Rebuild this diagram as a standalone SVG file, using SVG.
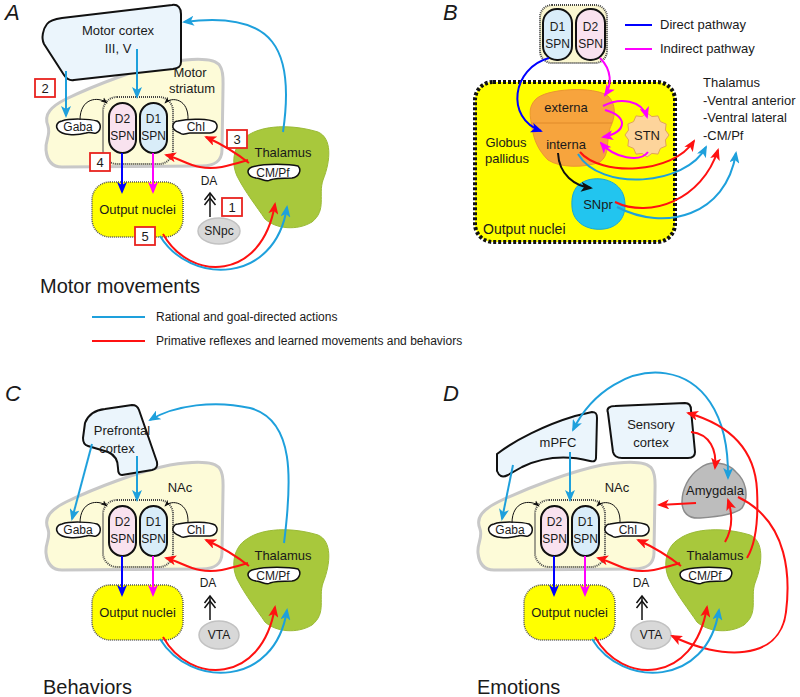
<svg xmlns="http://www.w3.org/2000/svg" width="800" height="697" viewBox="0 0 800 697">
<defs>
<style>
text{font-family:"Liberation Sans",Arial,sans-serif;fill:#1a1a1a;font-size:13px}
.m{text-anchor:middle}
.s12{font-size:12px}
.lab{font-size:22px;font-style:italic}
.title{font-size:20px}
.leg{font-size:12px}
.cortex{fill:#ebf5fc;stroke:#111;stroke-width:2;stroke-linejoin:round}
.str{fill:#fdfbd8;stroke:#c8c8c8;stroke-width:3}
.cont{fill:none;stroke:#444;stroke-width:2;stroke-dasharray:1 1}
.contf{fill:#fbf7d0;stroke:#444;stroke-width:2;stroke-dasharray:1 1}
.d2{fill:#f9e2ef;stroke:#111;stroke-width:2}
.d1{fill:#d9edf9;stroke:#111;stroke-width:2}
.blob{fill:#fff;stroke:#111;stroke-width:1.5}
.out{fill:#ffff00;stroke:#555;stroke-width:1.5;stroke-dasharray:1 1}
.thal{fill:#a8c83c;stroke:#9aba36;stroke-width:1}
.gray{fill:#d8d8d8;stroke:#c2c2c2;stroke-width:1.5}
.box{fill:#fff;stroke:#e8231f;stroke-width:1.8}
.cb{fill:none;stroke:#1ea0dc;stroke-width:2;marker-end:url(#ab)}
.cr{fill:none;stroke:#ff1111;stroke-width:2;marker-end:url(#ar)}
.cd{fill:none;stroke:#0000ff;stroke-width:2;marker-end:url(#ad)}
.cm{fill:none;stroke:#ff00ff;stroke-width:2;marker-end:url(#am)}
.ck{fill:none;stroke:#111;stroke-width:1;marker-end:url(#ak)}
.ckb{fill:none;stroke:#111;stroke-width:2;marker-end:url(#akb)}
</style>
<marker id="ab" viewBox="0 0 12 10" refX="10" refY="5" markerWidth="12" markerHeight="10" markerUnits="userSpaceOnUse" orient="auto-start-reverse"><path d="M0,0 L12,5 L0,10 L3,5 Z" fill="#1ea0dc"/></marker>
<marker id="ar" viewBox="0 0 12 10" refX="10" refY="5" markerWidth="12" markerHeight="10" markerUnits="userSpaceOnUse" orient="auto"><path d="M0,0 L12,5 L0,10 L3,5 Z" fill="#ff1111"/></marker>
<marker id="ad" viewBox="0 0 12 10" refX="10" refY="5" markerWidth="12" markerHeight="10" markerUnits="userSpaceOnUse" orient="auto"><path d="M0,0 L12,5 L0,10 L3,5 Z" fill="#0000ff"/></marker>
<marker id="am" viewBox="0 0 12 10" refX="10" refY="5" markerWidth="12" markerHeight="10" markerUnits="userSpaceOnUse" orient="auto"><path d="M0,0 L12,5 L0,10 L3,5 Z" fill="#ff00ff"/></marker>
<marker id="ak" viewBox="0 0 8 6" refX="7" refY="3" markerWidth="7" markerHeight="6" markerUnits="userSpaceOnUse" orient="auto"><path d="M0,0 L8,3 L0,6 L2,3 Z" fill="#111"/></marker>
<marker id="akb" viewBox="0 0 12 10" refX="10" refY="5" markerWidth="12" markerHeight="10" markerUnits="userSpaceOnUse" orient="auto"><path d="M0,0 L12,5 L0,10 L3,5 Z" fill="#111"/></marker>
</defs>
<rect width="800" height="697" fill="#fff"/>

<!-- ===== Panel A ===== -->
<g id="A-label"><text x="5" y="20" class="lab">A</text></g>
<g id="A-striatum">
<path class="str" d="M48,126 C43,114 52,106 66,99 C95,85 140,68 170,62 C195,58 215,58 220,66 C224,72 223,80 223,88 L222,150 C222,161 214,166 202,166 L62,167 C52,167 47,160 46,150 C45,140 51,135 48,126 Z"/>
<text x="190" y="77" class="m">Motor</text><text x="192" y="93" class="m">striatum</text>
</g>
<g id="A-cortex">
<path class="cortex" d="M47,24 C50,20 55,19 62,18 L172,5 C178,4 181,8 181,14 L181,62 C181,67 178,68 173,69 L74,80 C69,81 66,78 64,75 L44,44 C41,38 43,29 47,24 Z"/>
<text x="118" y="35" class="m">Motor cortex</text><text x="118" y="53" class="m">III, V</text>
</g>
<g id="A-spn-group"><rect class="cont" x="103" y="97" width="70" height="67" rx="14"/></g>
<g id="A-D2"><rect class="d2" x="109" y="103" width="27" height="50" rx="13.5"/><text x="122.5" y="123" class="m s12">D2</text><text x="122.5" y="140" class="m s12">SPN</text></g>
<g id="A-D1"><rect class="d1" x="140" y="103" width="27" height="50" rx="13.5"/><text x="153.5" y="123" class="m s12">D1</text><text x="153.5" y="140" class="m s12">SPN</text></g>
<g id="A-gaba"><path class="blob" d="M62,121 C70,118 90,119 97,121 C102,124 101,131 96,133 C92,134 90,131 86,133 C75,136 62,135 58,130 C55,126 57,122 62,121 Z"/><text x="78" y="131" class="m s12">Gaba</text></g>
<g id="A-chi"><path class="blob" d="M178,121 C190,118 210,119 215,122 C219,126 217,132 210,133 L190,133 C186,133 183,136 180,133 C175,131 172,128 173,125 C174,122 176,121 178,121 Z"/><text x="196" y="131" class="m s12">ChI</text></g>
<g id="A-output"><rect class="out" x="92" y="182" width="91" height="55" rx="18"/><text x="137.5" y="214" class="m">Output nuclei</text></g>
<g id="A-thalamus">
<path class="thal" d="M247,136 C262,125 292,124 318,132 C332,138 331,160 323,180 C318,195 327,210 312,222 C297,231 276,229 265,219 C257,207 245,192 237,176 C230,160 235,143 247,136 Z"/>
<text x="283" y="157" class="m">Thalamus</text>
<path class="blob" d="M252,167 C265,163 290,164 298,166 C302,170 299,177 292,178 C285,178 275,178 270,180 C266,183 262,178 256,178 C248,177 245,170 252,167 Z"/>
<text x="273" y="177" class="m s12">CM/Pf</text>
</g>
<g id="A-snpc"><ellipse class="gray" cx="219" cy="231" rx="21" ry="13"/><text x="219" y="235" class="m s12">SNpc</text></g>
<g id="A-da"><text x="209" y="185" class="m s12">DA</text></g>
<g id="A-box1"><rect class="box" x="222" y="198" width="20" height="18"/><text x="232" y="212" class="m">1</text></g>
<g id="A-box2"><rect class="box" x="35" y="79" width="20" height="18"/><text x="45" y="93" class="m">2</text></g>
<g id="A-box3"><rect class="box" x="227" y="130" width="20" height="18"/><text x="237" y="144" class="m">3</text></g>
<g id="A-box4"><rect class="box" x="90" y="153" width="20" height="18"/><text x="100" y="167" class="m">4</text></g>
<g id="A-box5"><rect class="box" x="135" y="227" width="20" height="18"/><text x="145" y="241" class="m">5</text></g>
<g id="A-title"><text x="40" y="293" class="title">Motor movements</text></g>

<!-- legend -->
<g id="legend">
<line x1="92" y1="317" x2="145" y2="317" stroke="#1ea0dc" stroke-width="2"/>
<text x="156" y="321" class="leg">Rational and goal-directed actions</text>
<line x1="92" y1="341" x2="145" y2="341" stroke="#ff1111" stroke-width="2"/>
<text x="156" y="345" class="leg">Primative reflexes and learned movements and behaviors</text>
</g>

<!-- ===== Panel B ===== -->
<g id="B-label"><text x="443" y="20" class="lab">B</text></g>
<g id="B-output"><rect x="475" y="82" width="200" height="160" rx="18" fill="#ffff00" stroke="#111" stroke-width="4" stroke-dasharray="3 2"/><text x="483" y="234" style="font-size:14px">Output nuclei</text></g>
<g id="B-spn"><rect class="contf" x="540" y="5" width="67" height="58" rx="12"/>
<rect class="d1" x="543" y="9" width="29" height="51" rx="14"/><text x="557.5" y="31" class="m s12">D1</text><text x="557.5" y="48" class="m s12">SPN</text>
<rect class="d2" x="576" y="9" width="29" height="51" rx="14"/><text x="590.5" y="31" class="m s12">D2</text><text x="590.5" y="48" class="m s12">SPN</text></g>
<g id="B-legend">
<line x1="625" y1="25" x2="652" y2="25" stroke="#0000ff" stroke-width="2"/><text x="660" y="29">Direct pathway</text>
<line x1="625" y1="49" x2="652" y2="49" stroke="#ff00ff" stroke-width="2"/><text x="660" y="53">Indirect pathway</text>
</g>
<g id="B-gp">
<path d="M535,100 C545,88 595,86 608,96 C618,106 614,120 610,128 C606,142 610,155 600,162 C585,168 560,168 548,160 C538,150 534,140 532,128 C530,115 528,108 535,100 Z" fill="#f7a43d" stroke="#ec9631" stroke-width="1"/>
<line x1="531" y1="123" x2="612" y2="123" stroke="#e08a2a" stroke-width="1"/>
<text x="566" y="112" class="m">externa</text><text x="566" y="149" class="m">interna</text>
</g>
<g id="B-gp-label"><text x="506" y="147" class="m">Globus</text><text x="507" y="163" class="m">pallidus</text></g>
<g id="B-stn"><polygon points="669,135 665.4,139.9 666.1,146 660.4,148.4 658,154.1 651.9,153.4 647,157 642.1,153.4 636,154.1 633.6,148.4 627.9,146 628.6,139.9 625,135 628.6,130.1 627.9,124 633.6,121.6 636,115.9 642.1,116.6 647,113 651.9,116.6 658,115.9 660.4,121.6 666.1,124 665.4,130.1" fill="#fdd49b" stroke="#e2a35a" stroke-width="1"/><text x="647" y="140" class="m">STN</text></g>
<g id="B-snpr"><path d="M585,181 C600,175 620,181 624,197 C628,214 620,227 604,229 C588,231 573,223 572,207 C571,194 575,185 585,181 Z" fill="#22c5ef" stroke="#17a8d6" stroke-width="1"/><text x="598" y="209" class="m">SNpr</text></g>
<g id="B-thalamus"><text x="703" y="87">Thalamus</text><text x="703" y="105">-Ventral anterior</text><text x="703" y="122">-Ventral lateral</text><text x="703" y="140">-CM/Pf</text></g>

<!-- ===== Panel C ===== -->
<g id="C-label"><text x="5" y="401" class="lab">C</text></g>
<g id="C-nac" transform="translate(0,403)">
<path class="str" d="M48,126 C43,114 52,106 66,99 C95,85 140,68 170,62 C195,58 215,58 220,66 C224,72 223,80 223,88 L222,150 C222,161 214,166 202,166 L62,167 C52,167 47,160 46,150 C45,140 51,135 48,126 Z"/>
<text x="180" y="89" class="m">NAc</text>
</g>
<g id="C-pfc">
<path class="cortex" d="M85,423 C88,415 95,410 105,409 L132,405 C136,405 138,407 139,410 L157,462 C158,467 156,469 152,470 L122,475 C119,475 118,472 118,468 C118,460 115,455 108,452 L88,446 C84,445 83,442 83,438 Z"/>
<text x="122" y="435" class="m">Prefrontal</text><text x="117" y="453" class="m">cortex</text>
</g>
<g id="C-spn-group" transform="translate(0,403)"><rect class="cont" x="103" y="97" width="70" height="67" rx="14"/></g>
<g id="C-D2" transform="translate(0,403)"><rect class="d2" x="109" y="103" width="27" height="50" rx="13.5"/><text x="122.5" y="123" class="m s12">D2</text><text x="122.5" y="140" class="m s12">SPN</text></g>
<g id="C-D1" transform="translate(0,403)"><rect class="d1" x="140" y="103" width="27" height="50" rx="13.5"/><text x="153.5" y="123" class="m s12">D1</text><text x="153.5" y="140" class="m s12">SPN</text></g>
<g id="C-gaba" transform="translate(0,403)"><path class="blob" d="M62,121 C70,118 90,119 97,121 C102,124 101,131 96,133 C92,134 90,131 86,133 C75,136 62,135 58,130 C55,126 57,122 62,121 Z"/><text x="78" y="131" class="m s12">Gaba</text></g>
<g id="C-chi" transform="translate(0,403)"><path class="blob" d="M178,121 C190,118 210,119 215,122 C219,126 217,132 210,133 L190,133 C186,133 183,136 180,133 C175,131 172,128 173,125 C174,122 176,121 178,121 Z"/><text x="196" y="131" class="m s12">ChI</text></g>
<g id="C-output" transform="translate(0,403)"><rect class="out" x="92" y="182" width="91" height="55" rx="18"/><text x="137.5" y="214" class="m">Output nuclei</text></g>
<g id="C-thalamus" transform="translate(0,403)">
<path class="thal" d="M247,136 C262,125 292,124 318,132 C332,138 331,160 323,180 C318,195 327,210 312,222 C297,231 276,229 265,219 C257,207 245,192 237,176 C230,160 235,143 247,136 Z"/>
<text x="283" y="157" class="m">Thalamus</text>
<path class="blob" d="M252,167 C265,163 290,164 298,166 C302,170 299,177 292,178 C285,178 275,178 270,180 C266,183 262,178 256,178 C248,177 245,170 252,167 Z"/>
<text x="273" y="177" class="m s12">CM/Pf</text>
</g>
<g id="C-vta" transform="translate(0,403)"><ellipse class="gray" cx="219" cy="232" rx="20" ry="14"/><text x="219" y="236" class="m s12">VTA</text></g>
<g id="C-da" transform="translate(0,403)"><text x="208" y="184" class="m s12">DA</text></g>
<g id="C-title"><text x="43" y="694" class="title">Behaviors</text></g>

<!-- ===== Panel D ===== -->
<g id="D-label"><text x="443" y="401" class="lab">D</text></g>
<g id="D-nac" transform="translate(432,403)">
<path class="str" d="M48,126 C43,114 52,106 66,99 C95,85 140,68 170,62 C195,58 215,58 220,66 C224,72 223,80 223,88 L222,150 C222,161 214,166 202,166 L62,167 C52,167 47,160 46,150 C45,140 51,135 48,126 Z"/>
<text x="185" y="89" class="m">NAc</text>
</g>
<g id="D-mpfc">
<path class="cortex" d="M497,454 C515,440 545,425 575,416 L592,412 C596,412 597,414 597,418 L596,458 C596,461 594,462 590,461 C570,456 545,456 522,467 L508,475 C502,478 499,476 497,471 Z"/>
<text x="558" y="447" class="m">mPFC</text>
</g>
<g id="D-sensory">
<path class="cortex" d="M608,413 C606,408 610,406 615,406 L685,403 C690,403 691,406 691,410 L695,452 C695,457 692,458 688,458 L622,458 C617,458 614,456 613,452 Z"/>
<text x="651" y="429" class="m">Sensory</text><text x="651" y="447" class="m">cortex</text>
</g>
<g id="D-amygdala"><path d="M700,468 C710,460 728,462 736,472 C745,480 750,495 742,508 C735,515 715,517 700,518 C688,519 682,512 682,502 C682,490 688,476 700,468 Z" fill="#bdbdbd" stroke="#8c8c8c" stroke-width="1.5"/><text x="715" y="495" class="m">Amygdala</text></g>
<g id="D-spn-group" transform="translate(432,403)"><rect class="cont" x="103" y="97" width="70" height="67" rx="14"/></g>
<g id="D-D2" transform="translate(432,403)"><rect class="d2" x="109" y="103" width="27" height="50" rx="13.5"/><text x="122.5" y="123" class="m s12">D2</text><text x="122.5" y="140" class="m s12">SPN</text></g>
<g id="D-D1" transform="translate(432,403)"><rect class="d1" x="140" y="103" width="27" height="50" rx="13.5"/><text x="153.5" y="123" class="m s12">D1</text><text x="153.5" y="140" class="m s12">SPN</text></g>
<g id="D-gaba" transform="translate(432,403)"><path class="blob" d="M62,121 C70,118 90,119 97,121 C102,124 101,131 96,133 C92,134 90,131 86,133 C75,136 62,135 58,130 C55,126 57,122 62,121 Z"/><text x="78" y="131" class="m s12">Gaba</text></g>
<g id="D-chi" transform="translate(432,403)"><path class="blob" d="M178,121 C190,118 210,119 215,122 C219,126 217,132 210,133 L190,133 C186,133 183,136 180,133 C175,131 172,128 173,125 C174,122 176,121 178,121 Z"/><text x="196" y="131" class="m s12">ChI</text></g>
<g id="D-output" transform="translate(432,403)"><rect class="out" x="92" y="182" width="91" height="55" rx="18"/><text x="137.5" y="214" class="m">Output nuclei</text></g>
<g id="D-thalamus" transform="translate(432,403)">
<path class="thal" d="M247,136 C262,125 292,124 318,132 C332,138 331,160 323,180 C318,195 327,210 312,222 C297,231 276,229 265,219 C257,207 245,192 237,176 C230,160 235,143 247,136 Z"/>
<text x="283" y="157" class="m">Thalamus</text>
<path class="blob" d="M252,167 C265,163 290,164 298,166 C302,170 299,177 292,178 C285,178 275,178 270,180 C266,183 262,178 256,178 C248,177 245,170 252,167 Z"/>
<text x="273" y="177" class="m s12">CM/Pf</text>
</g>
<g id="D-vta" transform="translate(432,403)"><ellipse class="gray" cx="219" cy="232" rx="20" ry="14"/><text x="219" y="236" class="m s12">VTA</text></g>
<g id="D-da" transform="translate(432,403)"><text x="209" y="184" class="m s12">DA</text></g>
<g id="D-title"><text x="477" y="694" class="title">Emotions</text></g>

<!-- ===== Connectors ===== -->
<g id="connectors">
 <g id="conn-A">
  <path class="cb" d="M66,71 L66,116"/>
  <path class="cb" d="M137,49 L137,97"/>
  <path class="cb" d="M283,132 C295,50 275,10 184,22"/>
  <path class="ck" d="M80,120 C80,98 98,96 107,103"/>
  <path class="ck" d="M188,120 C189,99 172,96 165,103"/>
  <path class="cd" d="M122,153 L122,192"/>
  <path class="cm" d="M153,153 L153,192"/>
  <path class="cr" d="M249,163 Q230,148 206,137"/>
  <path class="cr" d="M248,160 C228,166 215,170 200,167 C188,165 178,158 166,155"/>
  <path class="cr" d="M163,234 C190,282 262,282 275,204"/>
  <path class="cb" d="M160,236 C190,285 275,285 287,207"/>
  <g fill="none" stroke="#111" stroke-width="1.5"><path d="M210,217 L210,194"/><path d="M204.5,200 L210,193 L215.5,200"/><path d="M204.5,205 L210,198 L215.5,205"/></g>
 </g>
 <g id="conn-B">
  <path class="cd" d="M549,58 C512,68 505,118 541,131"/>
  <path class="cm" d="M600,58 C612,70 612,85 605,95"/>
  <path class="cm" d="M603,106 C620,97 642,100 647,117"/>
  <path class="cm" d="M605,110 C628,116 628,132 603,137"/>
  <path class="cm" d="M648,152 C640,163 614,158 601,143"/>
  <path class="ckb" d="M558,153 C559,175 575,186 591,188"/>
  <path class="cr" d="M580,152 C600,176 672,175 694,141"/>
  <path class="cb" d="M578,154 C600,192 686,186 706,147"/>
  <path class="cr" d="M615,202 C650,219 702,200 718,150"/>
  <path class="cb" d="M617,207 C665,232 726,216 736,153"/>
 </g>
 <g id="conn-C">
  <path class="cb" d="M92,444 L72,519"/>
  <path class="cb" d="M137,456 L137,500"/>
  <path class="cb" d="M284,543 C292,480 295,420 250,408 C215,400 175,405 150,420"/>
  <g transform="translate(0,403)">
  <path class="ck" d="M80,120 C80,98 98,96 107,103"/>
  <path class="ck" d="M188,120 C189,99 172,96 165,103"/>
  <path class="cd" d="M122,153 L122,192"/>
  <path class="cm" d="M153,153 L153,192"/>
  <path class="cr" d="M249,163 Q230,148 206,137"/>
  <path class="cr" d="M248,160 C228,166 215,170 200,167 C188,165 178,158 166,155"/>
  <path class="cr" d="M163,234 C190,282 262,282 275,204"/>
  <path class="cb" d="M160,236 C190,285 275,285 287,207"/>
  <g fill="none" stroke="#111" stroke-width="1.5"><path d="M210,217 L210,194"/><path d="M204.5,200 L210,193 L215.5,200"/><path d="M204.5,205 L210,198 L215.5,205"/></g>
  </g>
 </g>
 <g id="conn-D">
  <path class="cb" d="M513,465 L502,519"/>
  <path class="cb" d="M570,452 L570,500"/>
  <path class="cb" style="marker-start:url(#ab)" d="M573,430 C612,350 730,343 728,478"/>
  <path class="cr" d="M691,432 C710,434 717,450 715,468"/>
  <path class="cr" d="M747,558 C758,540 758,510 757,490 C755,450 730,425 688,413"/>
  <path class="cr" d="M738,497 C790,522 790,580 786,612 C780,662 720,660 672,636"/>
  <path class="cr" d="M725,542 C733,528 733,515 728,500"/>
  <path class="cr" d="M696,503 L659,505"/>
  <g transform="translate(432,403)">
  <path class="ck" d="M80,120 C80,98 98,96 107,103"/>
  <path class="ck" d="M188,120 C189,99 172,96 165,103"/>
  <path class="cd" d="M122,153 L122,192"/>
  <path class="cm" d="M153,153 L153,192"/>
  <path class="cr" d="M249,163 Q230,148 206,137"/>
  <path class="cr" d="M248,160 C228,166 215,170 200,167 C188,165 178,158 166,155"/>
  <path class="cr" d="M163,234 C190,282 262,282 275,204"/>
  <path class="cb" d="M160,236 C190,285 275,285 287,207"/>
  <g fill="none" stroke="#111" stroke-width="1.5"><path d="M210,217 L210,194"/><path d="M204.5,200 L210,193 L215.5,200"/><path d="M204.5,205 L210,198 L215.5,205"/></g>
  </g>
 </g>
</g>
</svg>
